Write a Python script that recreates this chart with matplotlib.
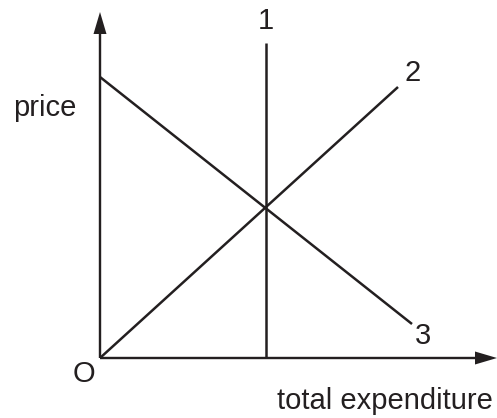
import matplotlib
matplotlib.use("Agg")
import matplotlib.pyplot as plt

# Data (units: origin O at bottom-left corner of the axes)
line1_x = [166, 166]
line1_y = [0, 315]
line2_x = [0, 298]
line2_y = [0, 271]
line3_x = [0, 312]
line3_y = [281, 34]
x_axis_len = 397
y_axis_len = 346

line_labels = ["1", "2", "3"]
label_pos = [(166, 337), (313, 285), (323, 22)]
y_label = "price"
x_label = "total expenditure"
origin_label = "O"

color = "#231f20"
plt.rcParams["font.family"] = ["Liberation Sans", "DejaVu Sans"]

fig = plt.figure(figsize=(4.97, 4.18), dpi=100)
ax = fig.add_axes([0, 0, 1, 1])
ax.set_xlim(-100, 397)
ax.set_ylim(-60, 358)
ax.axis("off")

lw = 1.8
# axes with arrows
ax.arrow(0, 0, 0, y_axis_len, width=2.4, head_width=13, head_length=22,
         length_includes_head=True, color=color, lw=0)
ax.arrow(0, 0, x_axis_len, 0, width=2.4, head_width=13, head_length=22,
         length_includes_head=True, color=color, lw=0)

for xs, ys in [(line1_x, line1_y), (line2_x, line2_y), (line3_x, line3_y)]:
    ax.plot(xs, ys, color=color, lw=lw, solid_capstyle="butt")

fs = 21
for lab, (lx, ly) in zip(line_labels, label_pos):
    ax.text(lx, ly, lab, fontsize=fs, color=color, ha="center", va="center")

ax.text(-16, -16, origin_label, fontsize=fs, color=color, ha="center", va="center")
ax.text(-55, 242, y_label, fontsize=fs, color=color, ha="center", va="baseline")
ax.text(285, -51, x_label, fontsize=fs, color=color, ha="center", va="baseline")

fig.savefig("out.png", dpi=100)
